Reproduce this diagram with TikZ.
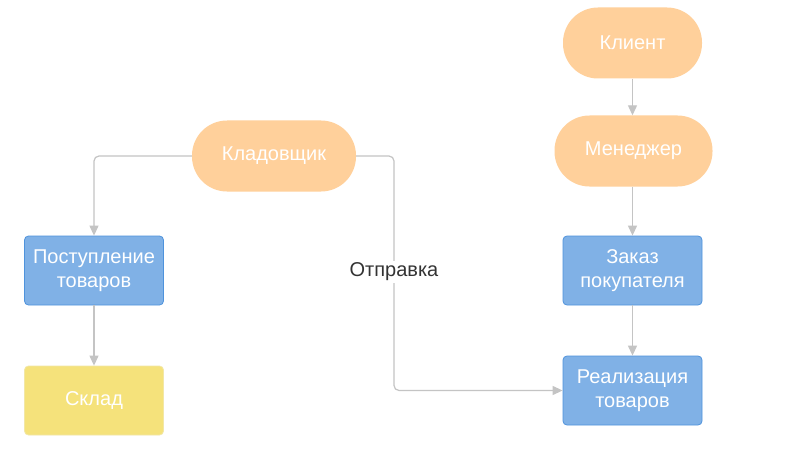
\documentclass[tikz,border=0pt]{standalone}
\usepackage{fontspec}
\setmainfont{Liberation Sans}
\usetikzlibrary{arrows.meta}
\definecolor{pillfill}{HTML}{FFD09B}
\definecolor{bluefill}{HTML}{80B1E6}
\definecolor{blueline}{HTML}{4F93DC}
\definecolor{yellowfill}{HTML}{F5E27B}
\definecolor{yellowline}{HTML}{F2E7A6}
\definecolor{conn}{HTML}{C4C4C4}
\definecolor{labeltext}{HTML}{333333}
\begin{document}
\begin{tikzpicture}[x=1pt,y=-1pt,
  every node/.style={font=\fontsize{20}{24}\selectfont, text=white, align=center, inner sep=0pt},
  pill/.style={fill=pillfill, draw=none, rounded corners=35pt, minimum height=71pt},
  bluebox/.style={fill=bluefill, draw=blueline, line width=0.8pt, rounded corners=4pt, minimum width=139pt, minimum height=69pt},
  yellowbox/.style={fill=yellowfill, draw=yellowline, line width=0.8pt, rounded corners=4pt, minimum width=139pt, minimum height=69pt},
  link/.style={draw=conn, line width=1.2pt, rounded corners=5pt, -{Triangle[length=10pt,width=9pt,fill=conn]}},
  lbl/.style={text=labeltext, fill=white, inner sep=2pt}]
\useasboundingbox (0,0) rectangle (796,452);
\fill[white] (0,0) rectangle (796,452);

\node[pill, minimum width=164pt] (klad) at (274,156) {Кладовщик};
\node[pill, minimum width=139pt] (klient) at (632.5,43) {Клиент};
\node[pill, minimum width=158pt] (men) at (633.5,151) {Менеджер};

\node[bluebox] (post) at (94,270.5) {Поступление\\товаров};
\node[yellowbox] (sklad) at (94,400.5) {Склад};
\node[bluebox] (zakaz) at (632.5,270.5) {Заказ\\покупателя};
\node[bluebox] (real) at (632.5,390.5) {Реализация\\товаров};

\coordinate (c1) at (94,156);
\coordinate (c2) at (394,156);
\coordinate (c3) at (394,390.5);

\draw[link] (klad.west) -- (c1) -- (post.north);
\draw[link] (post) -- (sklad);
\draw[link] (klient) -- (klient |- men.north);
\draw[link] (men.south -| zakaz) -- (zakaz.north);
\draw[link] (zakaz) -- (real);
\draw[link] (klad.east) -- (c2) -- (c3) -- (real.west);
\node[lbl] (otpr) at (394,272) {Отправка};
\end{tikzpicture}
\end{document}
